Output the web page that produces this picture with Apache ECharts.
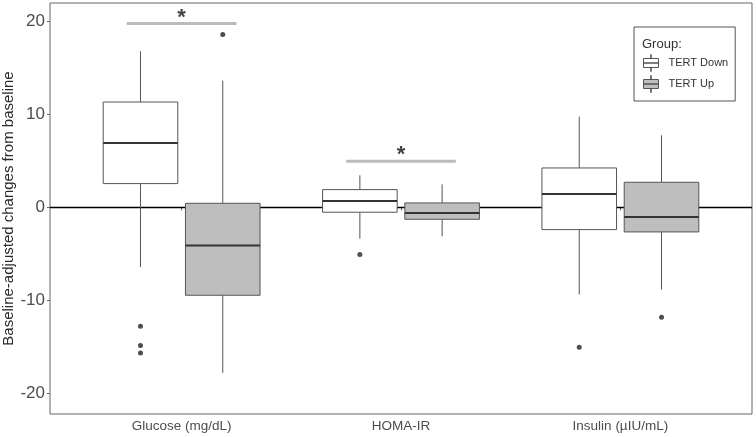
<!DOCTYPE html>
<html>
<head>
<meta charset="utf-8">
<script src="https://cdn.jsdelivr.net/npm/echarts@6/dist/echarts.min.js"></script>
<style>
html,body{margin:0;padding:0;background:#fff;}
#c{width:756px;height:437px;}
</style>
</head>
<body>
<div id="c"></div>
<script>
// ---- data ----
const categories = ['Glucose (mg/dL)', 'HOMA-IR', 'Insulin (µIU/mL)'];
const groups = ['TERT Down', 'TERT Up'];
// [min whisker, Q1, median, Q3, max whisker]
const downStats = [
  [-6.4, 2.58, 6.95, 11.35, 16.8],
  [-3.34, -0.5, 0.71, 1.93, 3.47],
  [-9.35, -2.37, 1.46, 4.26, 9.78]
];
const upStats = [
  [-17.78, -9.43, -4.09, 0.46, 13.65],
  [-3.09, -1.26, -0.58, 0.5, 2.5],
  [-8.82, -2.62, -1.01, 2.72, 7.77]
];
// [category index, value]
const downOutliers = [[0, -12.76], [0, -14.84], [0, -15.63], [1, -5.05], [2, -15.02]];
const upOutliers = [[0, 18.6], [2, -11.8]];
// significance bars: [category index, y]
const sigBars = [[0, 19.8], [1, 4.98]];
const yTicks = [-20, -10, 0, 10, 20];

// ---- layout helpers ----
const dodge = 0.1875;
const boxW = 0.34;
const offsets = [-dodge, dodge];
const fills = ['#ffffff', '#bebebe'];

function boxData(stats, g) {
  return stats.map((s, i) => [i + 1 + offsets[g]].concat(s));
}
function outData(list, g) {
  return list.map(p => [p[0] + 1 + offsets[g], p[1]]);
}

function renderBox(fill) {
  return function (params, api) {
    const x = api.value(0);
    const mn = api.coord([x, api.value(1)]);
    const q1 = api.coord([x, api.value(2)]);
    const md = api.coord([x, api.value(3)]);
    const q3 = api.coord([x, api.value(4)]);
    const mx = api.coord([x, api.value(5)]);
    const w = api.size([boxW, 0])[0];
    const cx = mn[0];
    const stroke = { stroke: '#555', lineWidth: 1, fill: null };
    return {
      type: 'group',
      children: [
        { type: 'line', shape: { x1: cx, y1: mx[1], x2: cx, y2: q3[1] }, style: stroke },
        { type: 'line', shape: { x1: cx, y1: q1[1], x2: cx, y2: mn[1] }, style: stroke },
        { type: 'rect', shape: { x: cx - w / 2, y: q3[1], width: w, height: q1[1] - q3[1] },
          style: { fill: fill, stroke: '#555', lineWidth: 1 } },
        { type: 'line', shape: { x1: cx - w / 2, y1: md[1], x2: cx + w / 2, y2: md[1] },
          style: { stroke: '#333', lineWidth: 2 } }
      ]
    };
  };
}

const legendIcon = 'path://M0,4 L15,4 L15,13 L0,13 Z M7.3,0 L7.7,0 L7.7,4 L7.3,4 Z M7.3,13 L7.7,13 L7.7,17 L7.3,17 Z M0,8.4 L15,8.4 L15,8.6 L0,8.6 Z';

const series = [];
// zero reference line
series.push({
  type: 'line', data: [[0.4, 0], [3.6, 0]], symbol: 'none', silent: true, z: 1,
  lineStyle: { color: '#000', width: 1.5 }
});
groups.forEach((name, g) => {
  const stats = g === 0 ? downStats : upStats;
  const outs = g === 0 ? downOutliers : upOutliers;
  series.push({
    name: name, type: 'custom', z: 3,
    renderItem: renderBox(fills[g]),
    encode: { x: 0, y: [1, 2, 3, 4, 5] },
    itemStyle: { color: fills[g], borderColor: '#555', borderWidth: 1 },
    data: boxData(stats, g)
  });
  series.push({
    type: 'scatter', z: 4, symbolSize: 5, silent: true,
    itemStyle: { color: '#222' },
    data: outData(outs, g)
  });
});
sigBars.forEach(b => {
  series.push({
    type: 'line', symbol: 'none', silent: true, z: 2,
    lineStyle: { color: '#bbbbbb', width: 3 },
    data: [[b[0] + 1 - 0.25, b[1]], [b[0] + 1 + 0.25, b[1]]]
  });
  series.push({
    type: 'scatter', symbolSize: 0, silent: true, z: 5,
    data: [[b[0] + 1, b[1]]],
    label: { show: true, formatter: '*', position: 'top', distance: -5,
      fontSize: 22, fontWeight: 'bold', color: '#111', fontFamily: 'Liberation Sans' }
  });
});

const chart = echarts.init(document.getElementById('c'), null, { renderer: 'canvas' });
chart.setOption({
  animation: false,
  backgroundColor: '#fff',
  textStyle: { fontFamily: 'Liberation Sans' },
  title: {
    text: 'Group:', left: 637, top: 33,
    textStyle: { fontSize: 13, fontWeight: 'normal', color: '#333', fontFamily: 'Liberation Sans' }
  },
  legend: {
    data: groups.map((n, g) => ({
      name: n, icon: legendIcon,
      itemStyle: { color: fills[g], borderColor: '#555', borderWidth: 1 }
    })),
    orient: 'vertical', left: 634, top: 27,
    padding: [27, 7, 8, 9],
    borderColor: '#555', borderWidth: 1,
    itemWidth: 15, itemHeight: 17, itemGap: 3,
    selectedMode: false,
    textStyle: { fontSize: 11, color: '#333', padding: [0, 0, 0, 5], fontFamily: 'Liberation Sans' }
  },
  grid: {
    left: 50, top: 3, right: 4, bottom: 23,
    outerBoundsMode: 'none', containLabel: false,
    show: true, borderColor: '#666', borderWidth: 1, backgroundColor: 'transparent'
  },
  xAxis: {
    type: 'value', min: 0.4, max: 3.6,
    axisLine: { show: false },
    splitLine: { show: false },
    axisTick: { show: true, customValues: [1, 2, 3], length: 3, lineStyle: { color: '#666' } },
    axisLabel: {
      customValues: [1, 2, 3],
      formatter: v => categories[Math.round(v) - 1],
      fontSize: 13.5, color: '#4d4d4d', margin: 5, fontFamily: 'Liberation Sans'
    }
  },
  yAxis: {
    type: 'value', min: -22.2, max: 22.0,
    name: 'Baseline-adjusted changes from baseline',
    nameLocation: 'middle', nameGap: 34, nameRotate: 90, nameMoveOverlap: false,
    nameTextStyle: { fontSize: 15, color: '#2a2a2a', fontFamily: 'Liberation Sans' },
    axisLine: { show: false },
    splitLine: { show: false },
    axisTick: { show: true, customValues: yTicks, length: 3, lineStyle: { color: '#666' } },
    axisLabel: {
      customValues: yTicks,
      fontSize: 17, color: '#4d4d4d', margin: 5, fontFamily: 'Liberation Sans'
    }
  },
  series: series
});
</script>
</body>
</html>
